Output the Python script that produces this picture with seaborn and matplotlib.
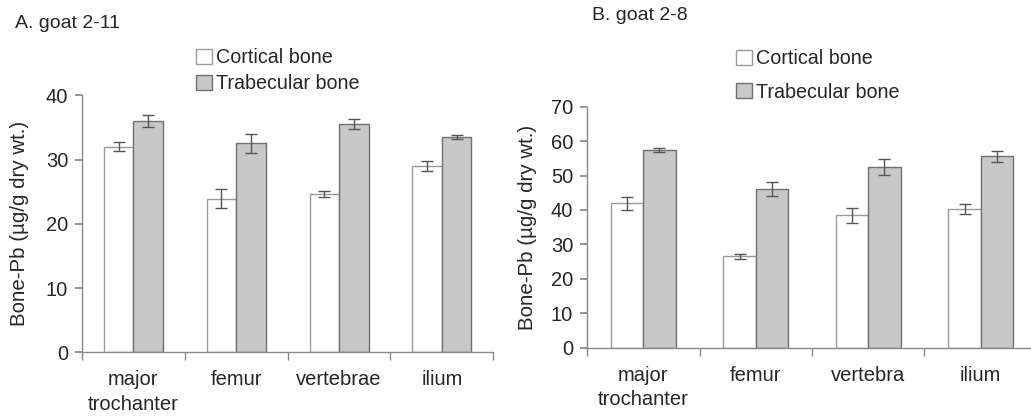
import numpy as np
import pandas as pd
import matplotlib
matplotlib.use("Agg")
import matplotlib.pyplot as plt
import seaborn as sns
from matplotlib.patches import Patch

sns.set_theme(style="white")
plt.rcParams['font.family'] = ['Liberation Sans', 'DejaVu Sans']

# ---- data ----
series = ["Cortical bone", "Trabecular bone"]
cats_a = ["major\ntrochanter", "femur", "vertebrae", "ilium"]
cort_a = [32.0, 23.9, 24.6, 29.0]
cort_a_err = [0.7, 1.45, 0.45, 0.8]
trab_a = [36.0, 32.5, 35.5, 33.5]
trab_a_err = [0.9, 1.5, 0.8, 0.35]

cats_b = ["major\ntrochanter", "femur", "vertebra", "ilium"]
cort_b = [41.9, 26.5, 38.4, 40.3]
cort_b_err = [1.8, 0.8, 2.1, 1.5]
trab_b = [57.5, 46.1, 52.4, 55.6]
trab_b_err = [0.6, 2.1, 2.3, 1.6]

fills = {"Cortical bone": "#ffffff", "Trabecular bone": "#c8c8c8"}
edges = {"Cortical bone": "#9a9a9a", "Trabecular bone": "#707070"}
spine_col = "#888888"
FS = 14.5

W, H = 1031, 416
fig = plt.figure(figsize=(W / 100, H / 100), dpi=100)
a_l, a_r, a_t, a_b = 82, 493.3, 95.3, 352.3
b_l, b_r, b_t, b_b = 587, 1037, 106.7, 347.7
ax_a = fig.add_axes([a_l/W, 1-a_b/H, (a_r-a_l)/W, (a_b-a_t)/H])
ax_b = fig.add_axes([b_l/W, 1-b_b/H, (b_r-b_l)/W, (b_b-b_t)/H])


def panel(ax, cats, cort, cort_err, trab, trab_err, ymax, step, ylab_x):
    df = pd.DataFrame({
        "cat": cats * 2,
        "series": [series[0]] * len(cats) + [series[1]] * len(cats),
        "val": cort + trab,
    })
    sns.barplot(data=df, x="cat", y="val", hue="series", hue_order=series,
                order=cats, palette=fills, width=0.575, gap=0, errorbar=None,
                legend=False, ax=ax, linewidth=1.0, saturation=1)
    errs = cort_err + trab_err
    vals = cort + trab
    patches = [p for p in ax.patches][:len(vals)]
    for i, p in enumerate(patches):
        s = series[0] if i < len(cats) else series[1]
        p.set_edgecolor(edges[s])
        p.set_facecolor(fills[s])
        xc = p.get_x() + p.get_width() / 2
        ax.errorbar(xc, vals[i], yerr=errs[i], color="#555555", capsize=4.5,
                    elinewidth=1.0, capthick=1.0, zorder=5)
    ax.set_xlim(-0.5, len(cats) - 0.5)
    ax.set_ylim(0, ymax)
    ax.set_yticks(np.arange(0, ymax + 1, step))
    ax.set_xlabel("")
    ax.set_ylabel("Bone-Pb (µg/g dry wt.)", fontsize=14.8)
    ax.yaxis.set_label_coords(ylab_x, 0.5)
    ax.tick_params(axis="y", labelsize=FS, length=5, color=spine_col,
                   direction="out", left=True, pad=5)
    ax.tick_params(axis="x", which="major", labelsize=FS, length=0, pad=13)
    ax.set_xticks(np.arange(-0.5, len(cats), 1.0), minor=True)
    ax.tick_params(axis="x", which="minor", length=6, color=spine_col,
                   direction="out", bottom=True)
    for lab in ax.get_xticklabels():
        lab.set_linespacing(1.35)
    for sp in ["top", "right"]:
        ax.spines[sp].set_visible(False)
    for sp in ["left", "bottom"]:
        ax.spines[sp].set_color(spine_col)
        ax.spines[sp].set_linewidth(1.0)


panel(ax_a, cats_a, cort_a, cort_a_err, trab_a, trab_a_err, 40, 10,
      (29 - a_l) / (a_r - a_l))
panel(ax_b, cats_b, cort_b, cort_b_err, trab_b, trab_b_err, 70, 10,
      (537 - b_l) / (b_r - b_l))

handles = [Patch(facecolor=fills[s], edgecolor=edges[s], label=s) for s in series]
fig.legend(handles=handles, loc="upper left", bbox_to_anchor=(196/W, 1-48/H),
           frameon=False, fontsize=14.2, handlelength=0.8, handleheight=0.8,
           handletextpad=0.2, labelspacing=0.35, borderaxespad=0, borderpad=0)
fig.legend(handles=handles, loc="upper left", bbox_to_anchor=(736/W, 1-49/H),
           frameon=False, fontsize=14.2, handlelength=0.8, handleheight=0.8,
           handletextpad=0.2, labelspacing=0.75, borderaxespad=0, borderpad=0)

fig.text(15/W, 1-23/H, "A. goat 2-11", fontsize=14, va="center", ha="left")
fig.text(592/W, 1-15/H, "B. goat 2-8", fontsize=14, va="center", ha="left")

fig.savefig("out.png", dpi=100)
